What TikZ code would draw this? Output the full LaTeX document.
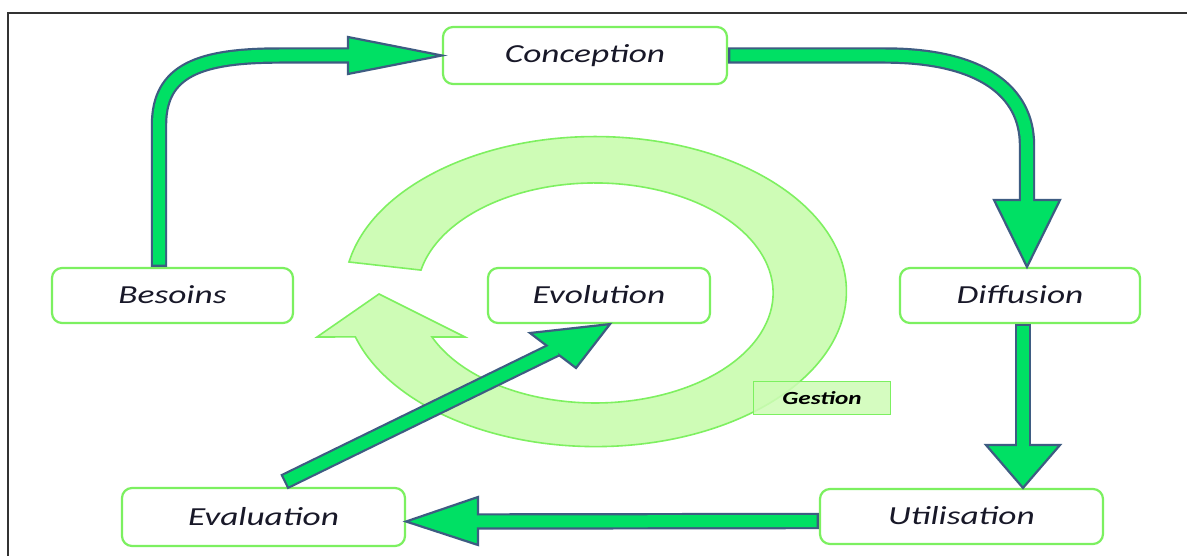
\documentclass[tikz,border=0pt]{standalone}
\usepackage{fontspec}
\usetikzlibrary{calc}
\newfontfamily\lblfont[FakeStretch=1.36]{Carlito}
\definecolor{boxline}{RGB}{124,240,96}
\definecolor{arrfill}{RGB}{0,224,100}
\definecolor{arrline}{RGB}{62,92,130}
\definecolor{ringfill}{RGB}{206,252,182}
\definecolor{ringline}{RGB}{126,240,96}
\definecolor{txt}{RGB}{24,24,40}

% fat arrow: #1 = shaft path, #2 = head polygon
\newcommand\fatarrow[2]{%
  \draw[shaftout] #1;
  \filldraw[arrowhead] #2;
  \draw[shaftin] #1;
}

\begin{document}
\begin{tikzpicture}[x=1pt,y=-1pt,
  stagebox/.style={draw=boxline, line width=2.2pt, rounded corners=10pt, fill=white,
    minimum width=#1, minimum height=55pt, inner sep=0pt, text=txt,
    font=\lblfont\itshape\fontsize{26}{30}\selectfont},
  shaftout/.style={draw=arrline, line width=16.4pt},
  shaftin/.style={draw=arrfill, line width=12pt, shorten <=2.2pt},
  arrowhead/.style={fill=arrfill, draw=arrline, line width=2.2pt, line join=miter},
  ring/.style={fill=ringfill, draw=ringline, line width=1.6pt},
  frameline/.style={draw=black!80, line width=1.3pt}]

\useasboundingbox (0,0) rectangle (1187,556);
\fill[white] (0,0) rectangle (1187,556);
\draw[frameline] (8,560) -- (8,13) -- (1190,13);

% circular management arrow
\filldraw[ring] (349,262) arc[start angle=191, end angle=523, x radius=251, y radius=155]
  -- (317,337) -- (379,294) -- (465,337) -- (432,337)
  arc[start angle=516.4, end angle=192, x radius=178, y radius=110] -- cycle;

% stages
\node[stagebox=284pt, minimum height=57pt] (con) at (585,55.5) {\raisebox{2pt}{Conception}};
\node[stagebox=241pt] (bes) at (172.5,295.5) {\raisebox{2pt}{Besoins}};
\node[stagebox=240pt] (dif) at (1020,295.5) {\raisebox{2pt}{Diffusion}};
\node[stagebox=222pt] (evo) at (599,295.5) {\raisebox{2pt}{Evolution}};
\node[stagebox=283pt, minimum height=58pt] (eva) at (263.5,517) {\raisebox{2pt}{Evaluation}};
\node[stagebox=283pt] (uti) at (961.5,516.5) {\raisebox{2pt}{Utilisation}};

\node[draw=boxline, line width=1.5pt, fill=ringfill, fill opacity=0.85, text opacity=1,
  minimum width=137pt, minimum height=33pt, inner sep=0pt, text=black,
  font=\lblfont\bfseries\itshape\fontsize{18.5}{20}\selectfont] (ges) at (822,398) {Gestion};

% cycle arrows
\fatarrow{($(bes.north)+(-13.5,0)$) -- (159,125) .. controls (159,70) and (200,55.5) .. (280,55.5) -- (352,55.5)}
         {(348,37) -- (con.west) -- (348,74) -- cycle}
\fatarrow{(con.east) -- (885,55.5) .. controls (982,55.5) and (1027,92) .. (1027,145) -- (1027,204)}
         {(994,200) -- ($(dif.north)+(7,0)$) -- (1060,200) -- cycle}
\fatarrow{($(dif.south)+(3,0)$) -- (1023,449)}
         {(986,445) -- ($(uti.north)+(61.5,0)$) -- (1060,445) -- cycle}
\fatarrow{($(uti.west)+(0,4.5)$) -- (474,521.5)}
         {(478,497) -- ($(eva.east)+(0,4.5)$) -- (478,545) -- cycle}
\fatarrow{($(eva.north)+(20.5,-5)$) -- (556,349)}
         {(530,333) -- ($(evo.south)+(11,0)$) -- (576,368) -- cycle}

\end{tikzpicture}
\end{document}
